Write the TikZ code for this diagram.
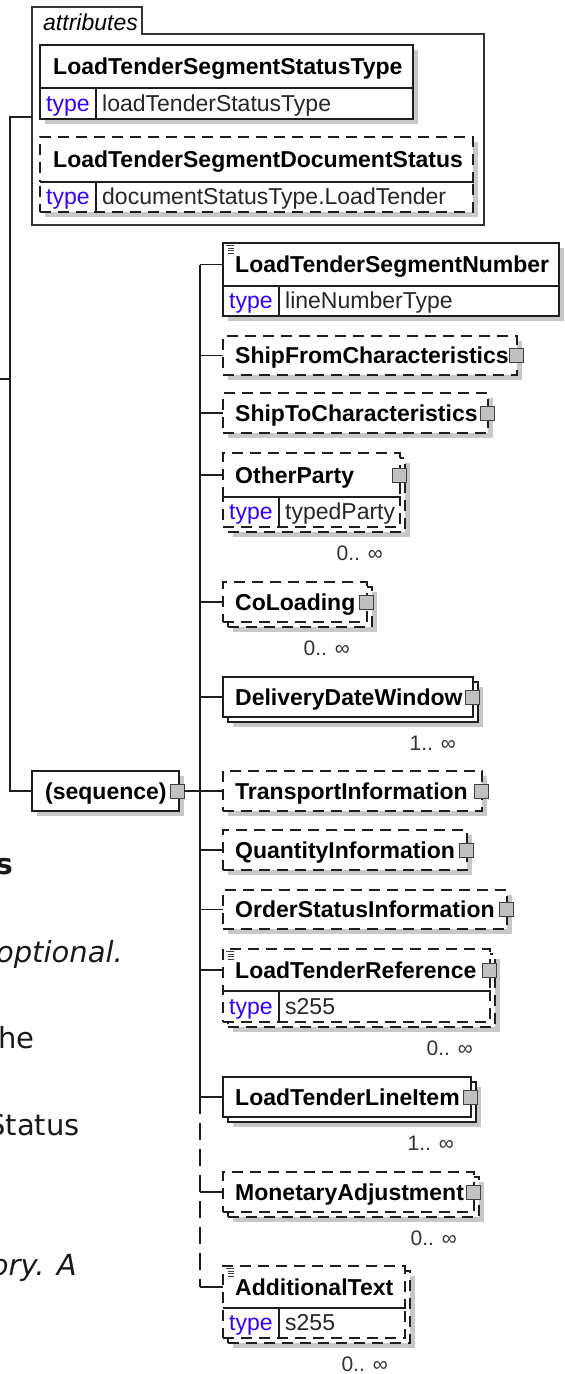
\documentclass[tikz,border=0pt]{standalone}
\usepackage{fontspec}
\setmainfont{Liberation Sans}
\newfontfamily\docfont{DejaVu Sans}
\usetikzlibrary{calc}
\definecolor{typeblue}{RGB}{51,0,255}
\definecolor{shadc}{RGB}{200,200,200}
\definecolor{sqfill}{RGB}{192,192,192}
\definecolor{linec}{RGB}{30,30,30}
\newcommand\elShd[4]{\fill[shad] (#1,#2) rectangle (#3,#4);}
\newcommand\elTitle[2]{\node[ttl] (#1-t) at ($(#1.west)+(12,8)$) {#2};}
\newcommand\elType[2]{%
  \draw[conn] ($(#1T.north west)+(56,0)$) -- ($(#1T.south west)+(56,0)$);
  \draw[conn] (#1.south west) -- (#1.south east);
  \node[tkey] (#1-k) at ($(#1T.south west)+(6,-8)$) {type};
  \node[tval] (#1-v) at ($(#1T.south west)+(62,-8)$) {#2};}
\newcommand\elMult[2]{\node[mult] (#1-m) at ($(#1B.south east)+(-22,28)$) {#2};}
\newcommand\elExp[1]{\node[expander] (#1-x) at ($(#1.east)+(-1,0)$) {};}
\newcommand\elDoc[1]{\draw[line width=0.9pt,black!75]
  ($(#1.north west)+(3,2.5)$) -- ++(8,0)
  ($(#1.north west)+(5,5)$) -- ++(6,0)
  ($(#1.north west)+(5,7.5)$) -- ++(6,0)
  ($(#1.north west)+(5,10)$) -- ++(6,0);}
\begin{document}
\begin{tikzpicture}[x=1pt,y=-1pt,
  font=\fontsize{23}{27}\selectfont,
  ebox/.style={draw=linec,fill=white,line width=1.4pt,inner sep=0pt,outer sep=0pt,anchor=north west},
  opt/.style={dash pattern=on 11pt off 7pt},
  shad/.style={fill=shadc},
  conn/.style={draw=linec,line width=1.4pt},
  expander/.style={draw=black!75,fill=sqfill,line width=1pt,minimum size=14pt,inner sep=0pt,outer sep=0pt},
  ttl/.style={anchor=base west,inner sep=0pt,font=\fontsize{23}{27}\selectfont\bfseries},
  tkey/.style={anchor=base west,inner sep=0pt,text=typeblue},
  tval/.style={anchor=base west,inner sep=0pt,text=black!85},
  mult/.style={anchor=base east,inner sep=0pt,font=\fontsize{21}{25}\selectfont,text=black!80},
  frag/.style={anchor=base east,inner sep=0pt,font=\docfont\fontsize{29}{34}\selectfont,text=black!90}]
\useasboundingbox (0,0) rectangle (565,1374);
\clip (0,0) rectangle (565,1374);
\fill[white] (0,0) rectangle (565,1374);

% ---------- left text fragments ----------
\node[frag,font=\docfont\bfseries\fontsize{29}{34}\selectfont] (f1) at (13,874) {s};
\node[frag,font=\docfont\itshape\fontsize{29}{34}\selectfont] (f2) at (123,962) {optional.};
\node[frag] (f3) at (35,1048) {he};
\node[frag] (f4) at (80,1135) {Status};
\node[frag,font=\docfont\itshape\fontsize{29}{34}\selectfont] (f5) at (77,1275) {ory. A};

% ---------- attributes group ----------
\draw[line width=1.3pt,draw=black!80] (32,225) -- (32,7) -- (142,7) -- (142,34) -- (484,34) -- (484,225) -- cycle;
\node[inner sep=0pt,outer sep=0pt,anchor=north west,minimum width=452pt,minimum height=191pt] (attrs) at (32,34) {};
\node[anchor=base west,inner sep=0pt,font=\fontsize{23}{27}\selectfont\itshape] (attrs-t) at (43,30) {attributes};

\elShd{45}{50}{418}{124}
\node[ebox,minimum width=373pt,minimum height=43pt] (aone) at (40,45) {};
\node[ebox,minimum width=373pt,minimum height=31pt] (aoneT) at (40,88) {};
\node[ttl] (aone-t) at ($(aone.west)+(13,8)$) {LoadTenderSegmentStatusType};
\elType{aone}{loadTenderStatusType}

\elShd{45}{142}{478}{217}
\node[ebox,opt,minimum width=433pt,minimum height=45pt] (atwo) at (40,137) {};
\node[ebox,opt,minimum width=433pt,minimum height=30pt] (atwoT) at (40,182) {};
\node[ttl] (atwo-t) at ($(atwo.west)+(13,8)$) {LoadTenderSegmentDocumentStatus};
\elType{atwo}{documentStatusType.LoadTender}

% ---------- sequence ----------
\elShd{37}{776}{184}{816}
\node[ebox,minimum width=147pt,minimum height=40pt] (seq) at (32,771) {};
\node[ttl] (seq-t) at ($(seq.west)+(13,8)$) {(sequence)};
\node[expander] (seq-x) at ($(seq.east)+(-2,0)$) {};

% ---------- children ----------
% LoadTenderSegmentNumber
\elShd{228}{248}{564}{321}
\node[ebox,minimum width=336pt,minimum height=43pt] (ltsn) at (223,243) {};
\node[ebox,minimum width=336pt,minimum height=30pt] (ltsnT) at (223,286) {};
\elTitle{ltsn}{LoadTenderSegmentNumber}
\elType{ltsn}{lineNumberType}
\elDoc{ltsn}

% ShipFromCharacteristics
\elShd{228}{341}{522}{380}
\node[ebox,opt,minimum width=294pt,minimum height=39pt] (sfc) at (223,336) {};
\elTitle{sfc}{ShipFromCharacteristics}
\elExp{sfc}

% ShipToCharacteristics
\elShd{228}{398}{493}{438}
\node[ebox,opt,minimum width=265pt,minimum height=40pt] (stc) at (223,393) {};
\elTitle{stc}{ShipToCharacteristics}
\elExp{stc}

% OtherParty
\elShd{233}{463}{410}{537}
\node[ebox,opt,minimum width=177pt,minimum height=74pt] (opB) at (228,458) {};
\node[ebox,opt,minimum width=177pt,minimum height=44pt] (op) at (223,453) {};
\node[ebox,opt,minimum width=177pt,minimum height=30pt] (opT) at (223,497) {};
\elTitle{op}{OtherParty}
\elType{op}{typedParty}
\elExp{op}
\elMult{op}{0.. ∞}

% CoLoading
\elShd{233}{592}{377}{632}
\node[ebox,opt,minimum width=144pt,minimum height=40pt] (colB) at (228,587) {};
\node[ebox,opt,minimum width=144pt,minimum height=40pt] (col) at (223,582) {};
\elTitle{col}{CoLoading}
\elExp{col}
\elMult{col}{0.. ∞}

% DeliveryDateWindow
\elShd{233}{687}{483}{727}
\node[ebox,minimum width=250pt,minimum height=40pt] (ddwB) at (228,682) {};
\node[ebox,minimum width=250pt,minimum height=40pt] (ddw) at (223,677) {};
\elTitle{ddw}{DeliveryDateWindow}
\elExp{ddw}
\elMult{ddw}{1.. ∞}

% TransportInformation
\elShd{228}{776}{487}{816}
\node[ebox,opt,minimum width=259pt,minimum height=40pt] (ti) at (223,771) {};
\elTitle{ti}{TransportInformation}
\elExp{ti}

% QuantityInformation
\elShd{228}{835}{472}{875}
\node[ebox,opt,minimum width=244pt,minimum height=40pt] (qi) at (223,830) {};
\elTitle{qi}{QuantityInformation}
\elExp{qi}

% OrderStatusInformation
\elShd{228}{895}{512}{934}
\node[ebox,opt,minimum width=284pt,minimum height=39pt] (osi) at (223,890) {};
\elTitle{osi}{OrderStatusInformation}
\elExp{osi}

% LoadTenderReference
\elShd{233}{959}{500}{1032}
\node[ebox,opt,minimum width=267pt,minimum height=73pt] (ltrB) at (228,954) {};
\node[ebox,opt,minimum width=267pt,minimum height=42pt] (ltr) at (223,949) {};
\node[ebox,opt,minimum width=267pt,minimum height=31pt] (ltrT) at (223,991) {};
\elTitle{ltr}{LoadTenderReference}
\elType{ltr}{s255}
\elExp{ltr}
\elDoc{ltr}
\elMult{ltr}{0.. ∞}

% LoadTenderLineItem
\elShd{233}{1087}{481}{1127}
\node[ebox,minimum width=248pt,minimum height=40pt] (ltliB) at (228,1082) {};
\node[ebox,minimum width=248pt,minimum height=40pt] (ltli) at (223,1077) {};
\elTitle{ltli}{LoadTenderLineItem}
\elExp{ltli}
\elMult{ltli}{1.. ∞}

% MonetaryAdjustment
\elShd{233}{1182}{484}{1222}
\node[ebox,opt,minimum width=251pt,minimum height=40pt] (maB) at (228,1177) {};
\node[ebox,opt,minimum width=251pt,minimum height=40pt] (ma) at (223,1172) {};
\elTitle{ma}{MonetaryAdjustment}
\elExp{ma}
\elMult{ma}{0.. ∞}

% AdditionalText
\elShd{233}{1276}{415}{1348}
\node[ebox,opt,minimum width=182pt,minimum height=72pt] (atB) at (228,1271) {};
\node[ebox,opt,minimum width=182pt,minimum height=42pt] (at) at (223,1266) {};
\node[ebox,opt,minimum width=182pt,minimum height=30pt] (atT) at (223,1308) {};
\elTitle{at}{AdditionalText}
\elType{at}{s255}
\elDoc{at}
\elMult{at}{0.. ∞}

% ---------- connectors ----------
\coordinate (lspT) at (10,117);
\coordinate (attrsIn) at (32,117);
\coordinate (parentIn) at (0,379);
\coordinate (csp) at (200,0);
\draw[conn] (attrsIn) -- (lspT) -- (lspT |- seq.west) -- (seq.west);
\draw[conn] (parentIn) -- (parentIn -| lspT);
\draw[conn] (seq-x.east) -- (seq-x.east -| csp);
\draw[conn] (ltsn.west -| csp) -- (ltli.west -| csp);
\draw[conn,dash pattern=on 17pt off 9pt] (ltli.west -| csp) -- (at.west -| csp);
\foreach \c in {ltsn,sfc,stc,op,col,ddw,ti,qi,osi,ltr,ltli,ma,at}
  \draw[conn] (\c.west -| csp) -- (\c.west);
\end{tikzpicture}
\end{document}
